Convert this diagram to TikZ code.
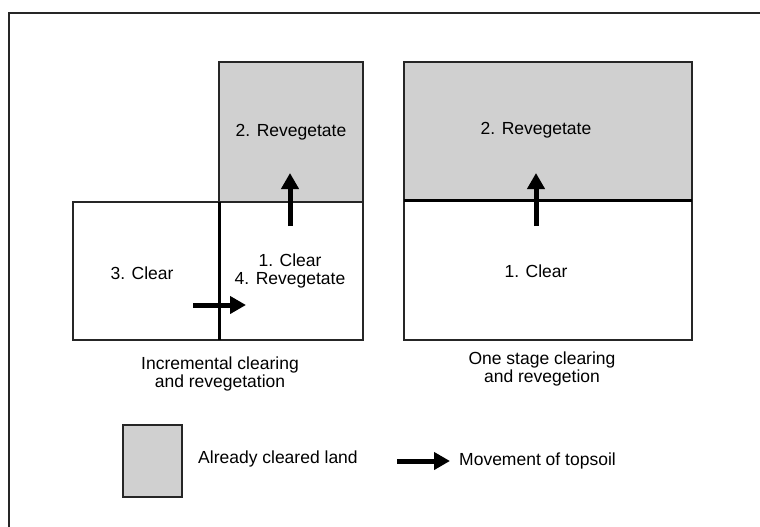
\documentclass[tikz,border=0pt]{standalone}
\usepackage{fontspec}
\setmainfont{Liberation Sans}
\usetikzlibrary{arrows.meta}
\definecolor{landgrey}{RGB}{208,208,208}
\tikzset{
  thinbox/.style={draw=black!85, line width=1.3pt},
  greybox/.style={thinbox, fill=landgrey},
  thickline/.style={draw=black, line width=3pt},
  soil/.style={draw=black, line width=5pt, -{Triangle[length=16pt,width=17pt]}},
  lbl/.style={font=\fontsize{17.5}{17.5}\selectfont, align=center, inner sep=0pt},
  lbll/.style={lbl, anchor=west}
}
\begin{document}
\begin{tikzpicture}[x=1pt,y=-1pt]
\useasboundingbox (0,0) rectangle (760,527);
\fill[white] (0,0) rectangle (760,527);
% frame
\draw[line width=1.3pt, black!85] (9,540) -- (9,13) -- (770,13);
% incremental
\draw[greybox] (219,62) rectangle (363,202);
\draw[thinbox] (73,202) rectangle (219,340);
\draw[thinbox] (219,202) rectangle (363,340);
\coordinate (v1) at (219,202);
\coordinate (v2) at (219,340);
\draw[thickline] (v1) -- (v2);
\node[lbl] (rev1) at (291,132) {2. Revegetate};
\node[lbl] (clr3) at (142,273) {3. Clear};
\node[lbl] (clr1) at (290,271) {1. Clear\\4. Revegetate};
\coordinate (a1s) at (290,226);
\coordinate (a1e) at (290,173);
\draw[soil] (a1s) -- (a1e);
\coordinate (a2s) at (193,305);
\coordinate (a2e) at (246,305);
\draw[soil] (a2s) -- (a2e);
\node[lbl] (cap1) at (220,374) {Incremental clearing\\and revegetation};
% one stage
\draw[greybox] (404,62) rectangle (692,200);
\draw[thinbox] (404,200) rectangle (692,340);
\coordinate (h1) at (404,200);
\coordinate (h2) at (692,200);
\draw[thickline] (h1) -- (h2);
\node[lbl] (rev2) at (536,130) {2. Revegetate};
\node[lbl] (clr1b) at (536,271) {1. Clear};
\coordinate (a3s) at (536,226);
\coordinate (a3e) at (536,173);
\draw[soil] (a3s) -- (a3e);
\node[lbl] (cap2) at (542,369) {One stage clearing\\and revegetion};
% legend
\draw[greybox] (123,425) rectangle (182,497);
\node[lbll] (leg1) at (198,459) {Already cleared land};
\coordinate (a4s) at (397,461);
\coordinate (a4e) at (450,461);
\draw[soil] (a4s) -- (a4e);
\node[lbll] (leg2) at (459,461) {Movement of topsoil};
\end{tikzpicture}
\end{document}
